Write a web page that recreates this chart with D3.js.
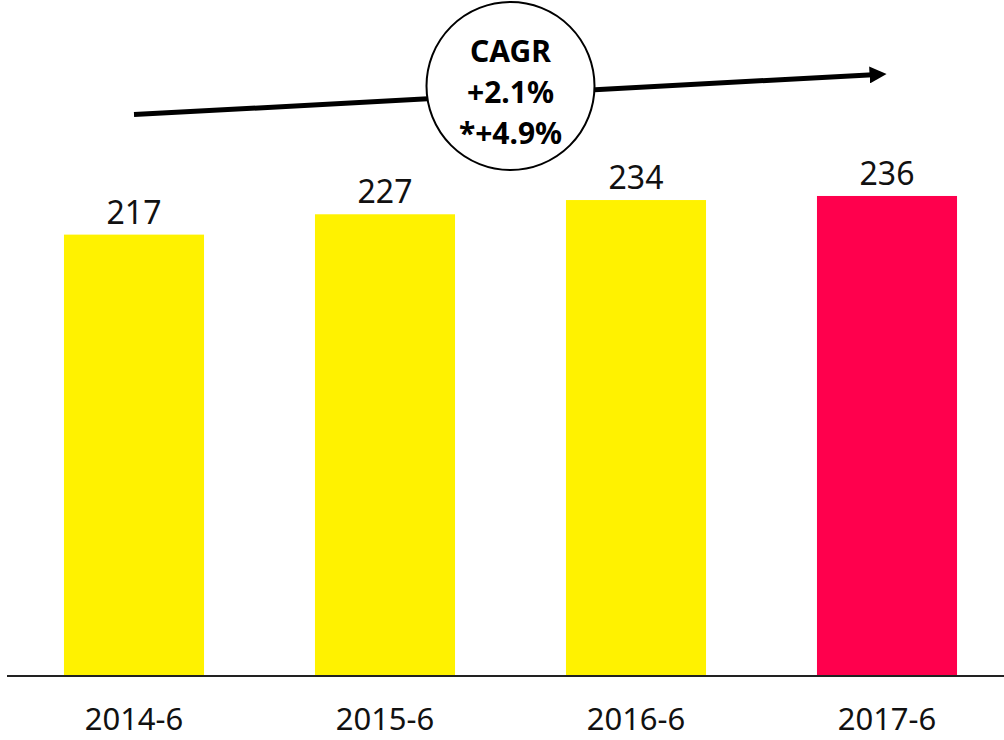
<!DOCTYPE html>
<html>
<head>
<meta charset="utf-8">
<script src="https://cdn.jsdelivr.net/npm/d3@7"></script>
<style>
  body { margin: 0; background: #fff; }
  text { font-family: "Noto Sans", "Open Sans", sans-serif; }
</style>
</head>
<body>
<script>
const categories = ['2014-6', '2015-6', '2016-6', '2017-6']
const values = [217, 227, 234, 236]
const barColors = ['#FFF200', '#FFF200', '#FFF200', '#FF004D']
const cagrLines = ['CAGR', '+2.1%', '*+4.9%']
// arrow start / end levels in value units
const arrowLevels = [276, 296]

const width = 1004
const height = 740
const baseline = 676

const svg = d3.select('body').append('svg')
  .attr('width', width)
  .attr('height', height)

const xScale = d3.scaleBand()
  .domain(categories)
  .range([8.5, 1012.5])
  .paddingInner(0.442)
  .paddingOuter(0.221)

const yScale = d3.scaleLinear()
  .domain([0, 300])
  .range([baseline, baseline - 300 * 2.034])

const data = categories.map((c, i) => ({cat: c, value: values[i], color: barColors[i]}))

svg.selectAll('rect.bar')
  .data(data)
  .join('rect')
  .attr('class', 'bar')
  .attr('x', d => xScale(d.cat))
  .attr('y', d => yScale(d.value))
  .attr('width', xScale.bandwidth())
  .attr('height', d => baseline - yScale(d.value))
  .attr('fill', d => d.color)

svg.selectAll('text.val')
  .data(data)
  .join('text')
  .attr('class', 'val')
  .attr('x', d => xScale(d.cat) + xScale.bandwidth() / 2)
  .attr('y', d => yScale(d.value) - 11)
  .attr('text-anchor', 'middle')
  .attr('font-size', 32)
  .attr('fill', '#111')
  .text(d => d.value)

// x axis
const xAxis = d3.axisBottom(xScale).tickSize(0).tickPadding(32)
const xAxisGroup = svg.append('g')
  .attr('transform', `translate(0,${baseline})`)
  .call(xAxis)
xAxisGroup.select('.domain').remove()
xAxisGroup.selectAll('text')
  .attr('font-size', 31)
  .attr('fill', '#111')
  .style('font-family', '"Noto Sans", sans-serif')
svg.append('line')
  .attr('x1', 7).attr('x2', width)
  .attr('y1', baseline).attr('y2', baseline)
  .attr('stroke', '#222')
  .attr('stroke-width', 2)

// CAGR arrow
const x0 = xScale(categories[0]) + xScale.bandwidth() / 2
const x1 = xScale(categories[3]) + xScale.bandwidth() / 2
svg.append('defs').append('marker')
  .attr('id', 'head')
  .attr('viewBox', '0 0 10 10')
  .attr('refX', 2).attr('refY', 5)
  .attr('markerWidth', 3.4).attr('markerHeight', 3.4)
  .attr('orient', 'auto')
  .append('path')
  .attr('d', 'M0,0L10,5L0,10Z')
  .attr('fill', '#000')

svg.append('line')
  .attr('x1', x0).attr('y1', yScale(arrowLevels[0]))
  .attr('x2', x1 - 14).attr('y2', yScale(arrowLevels[1]) + 0.8)
  .attr('stroke', '#000')
  .attr('stroke-width', 5)
  .attr('marker-end', 'url(#head)')

const cx = (x0 + x1) / 2
svg.append('circle')
  .attr('cx', cx).attr('cy', 86)
  .attr('r', 84)
  .attr('fill', '#fff')
  .attr('stroke', '#000')
  .attr('stroke-width', 2)

svg.selectAll('text.cagr')
  .data(cagrLines)
  .join('text')
  .attr('class', 'cagr')
  .attr('x', cx)
  .attr('y', (d, i) => 62 + i * 41)
  .attr('text-anchor', 'middle')
  .attr('font-size', 30)
  .attr('font-weight', 'bold')
  .attr('fill', '#000')
  .text(d => d)
</script>
</body>
</html>
